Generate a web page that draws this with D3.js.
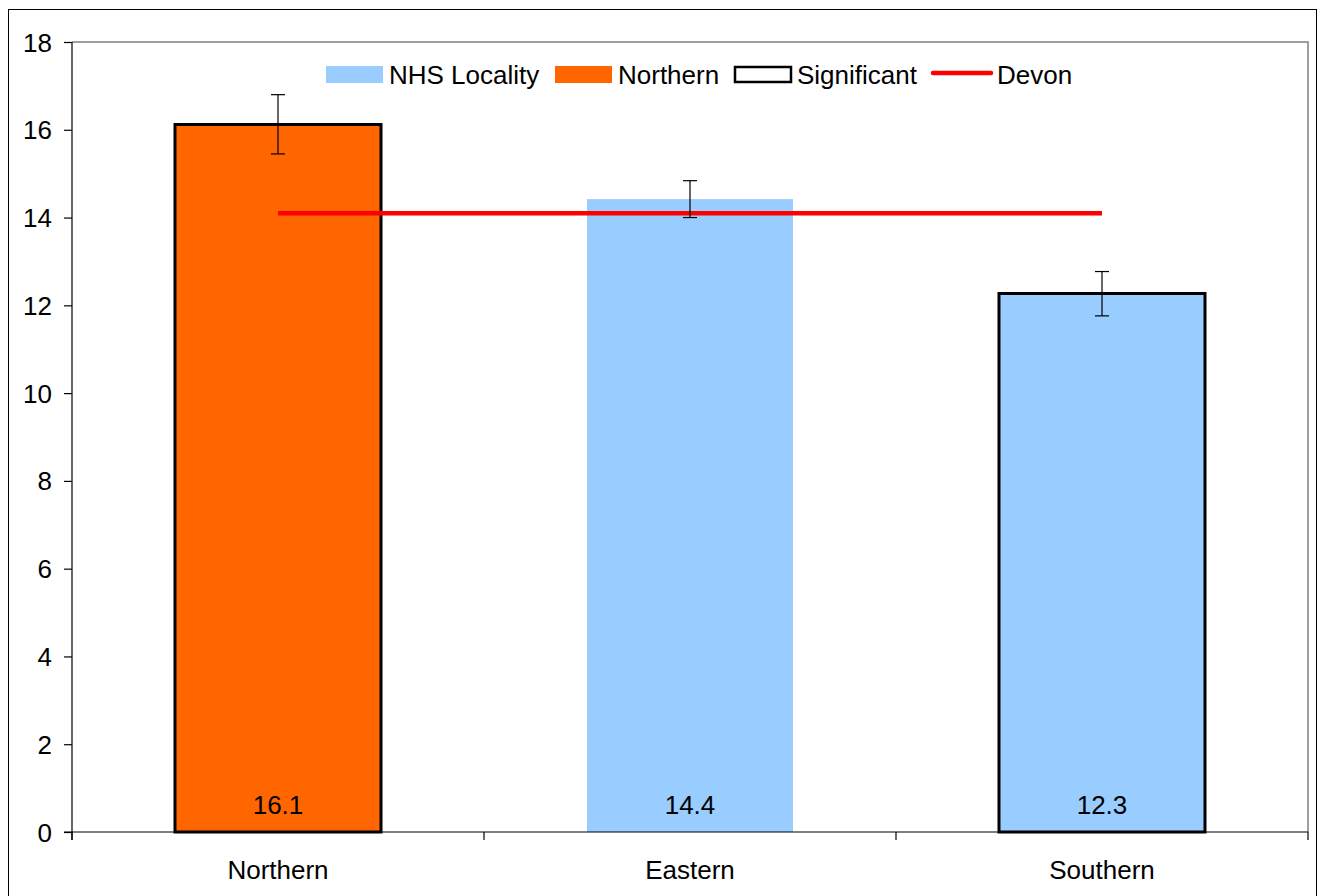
<!DOCTYPE html>
<html><head><meta charset="utf-8">
<script src="https://cdn.jsdelivr.net/npm/d3@7"></script>
<style>body{margin:0;background:#fff}svg{display:block}text{font-family:"Liberation Sans",Arial,sans-serif;fill:#000}</style>
</head><body>
<script>
const categories = ["Northern", "Eastern", "Southern"];
const values = [16.1, 14.4, 12.3];
const barValues = [16.12, 14.42, 12.27];
const errLow = [15.45, 14.0, 11.76];
const errHigh = [16.8, 14.84, 12.77];
const significant = [true, false, true];
const highlight = [true, false, false];
const devon = 14.1;
const yTicks = [0, 2, 4, 6, 8, 10, 12, 14, 16, 18];
const legendItems = ["NHS Locality", "Northern", "Significant", "Devon"];

const W = 1321, H = 896;
const svg = d3.select("body").append("svg").attr("width", W).attr("height", H);
svg.append("rect").attr("x", 8.5).attr("y", 9.5).attr("width", 1308).attr("height", 900)
  .attr("fill", "none").attr("stroke", "#000").attr("stroke-width", 1);

const L = 72, R = 1308, T = 42, B = 832;
const x = d3.scaleBand().domain(categories).range([L, R]).paddingInner(0.5).paddingOuter(0.25);
const xb = d3.scaleBand().domain(categories).range([L, R]);
const y = d3.scaleLinear().domain([0, 18]).range([B, T]);

// plot border top/right
svg.append("path").attr("d", `M${L},${T}H${R}V${B}`).attr("fill", "none").attr("stroke", "#808080").attr("stroke-width", 1.5);

// bars
categories.forEach((c, i) => {
  svg.append("rect").attr("x", x(c)).attr("y", y(barValues[i])).attr("width", x.bandwidth())
    .attr("height", y(0) - y(barValues[i]))
    .attr("fill", highlight[i] ? "#FF6600" : "#99CCFF")
    .attr("stroke", significant[i] ? "#000" : "none").attr("stroke-width", 3);
});

// devon line
svg.append("line").attr("x1", xb(categories[0]) + xb.bandwidth() / 2).attr("x2", xb(categories[2]) + xb.bandwidth() / 2)
  .attr("y1", y(devon)).attr("y2", y(devon)).attr("stroke", "#FF0000").attr("stroke-width", 4.5);

// error bars
categories.forEach((c, i) => {
  const cx = xb(c) + xb.bandwidth() / 2;
  const g = svg.append("g").attr("stroke", "#000").attr("stroke-width", 1.2);
  g.append("line").attr("x1", cx).attr("x2", cx).attr("y1", y(errHigh[i])).attr("y2", y(errLow[i]));
  [errHigh[i], errLow[i]].forEach(v => g.append("line").attr("x1", cx - 7).attr("x2", cx + 7).attr("y1", y(v)).attr("y2", y(v)));
});

// value labels
categories.forEach((c, i) => {
  svg.append("text").attr("x", xb(c) + xb.bandwidth() / 2).attr("y", 814).attr("text-anchor", "middle")
    .attr("font-size", 26).text(values[i].toFixed(1));
});

// y axis
const yAxis = svg.append("g").attr("transform", `translate(${L},0)`)
  .call(d3.axisLeft(y).tickValues(yTicks).tickSize(8).tickPadding(12).tickFormat(d3.format("d")));
yAxis.select(".domain").attr("d", `M0,${T}V${B + 8}`).attr("stroke", "#000").attr("stroke-width", 1.2);
yAxis.selectAll(".tick line").attr("stroke", "#000").attr("stroke-width", 1.2);
yAxis.selectAll("text").attr("font-size", 26).attr("font-family", "Liberation Sans, Arial, sans-serif").attr("dy", "0.35em");

// x axis
const xAxis = svg.append("g").attr("transform", `translate(0,${B})`);
xAxis.append("line").attr("x1", L - 8).attr("x2", R).attr("stroke", "#000").attr("stroke-width", 1.2);
const bounds = [L].concat(categories.map(c => xb(c) + xb.bandwidth()));
bounds.forEach(b => xAxis.append("line").attr("x1", b).attr("x2", b).attr("y1", 0).attr("y2", 8).attr("stroke", "#000").attr("stroke-width", 1.2));
categories.forEach(c => xAxis.append("text").attr("x", xb(c) + xb.bandwidth() / 2).attr("y", 47)
  .attr("text-anchor", "middle").attr("font-size", 26).text(c));

// legend
const lg = svg.append("g");
const ly = 75;
lg.append("rect").attr("x", 326).attr("y", 66).attr("width", 57).attr("height", 17).attr("fill", "#99CCFF");
lg.append("text").attr("x", 389).attr("y", ly).attr("dy", "0.35em").attr("font-size", 26).text(legendItems[0]);
lg.append("rect").attr("x", 555).attr("y", 66).attr("width", 57).attr("height", 17).attr("fill", "#FF6600");
lg.append("text").attr("x", 618).attr("y", ly).attr("dy", "0.35em").attr("font-size", 26).text(legendItems[1]);
lg.append("rect").attr("x", 735).attr("y", 67).attr("width", 56).attr("height", 15).attr("fill", "#fff").attr("stroke", "#000").attr("stroke-width", 2.5);
lg.append("text").attr("x", 797).attr("y", ly).attr("dy", "0.35em").attr("font-size", 26).text(legendItems[2]);
lg.append("line").attr("x1", 933).attr("x2", 991).attr("y1", 73).attr("y2", 73).attr("stroke", "#FF0000").attr("stroke-width", 4.5).attr("stroke-linecap", "round");
lg.append("text").attr("x", 997).attr("y", ly).attr("dy", "0.35em").attr("font-size", 26).text(legendItems[3]);
</script>
</body></html>
